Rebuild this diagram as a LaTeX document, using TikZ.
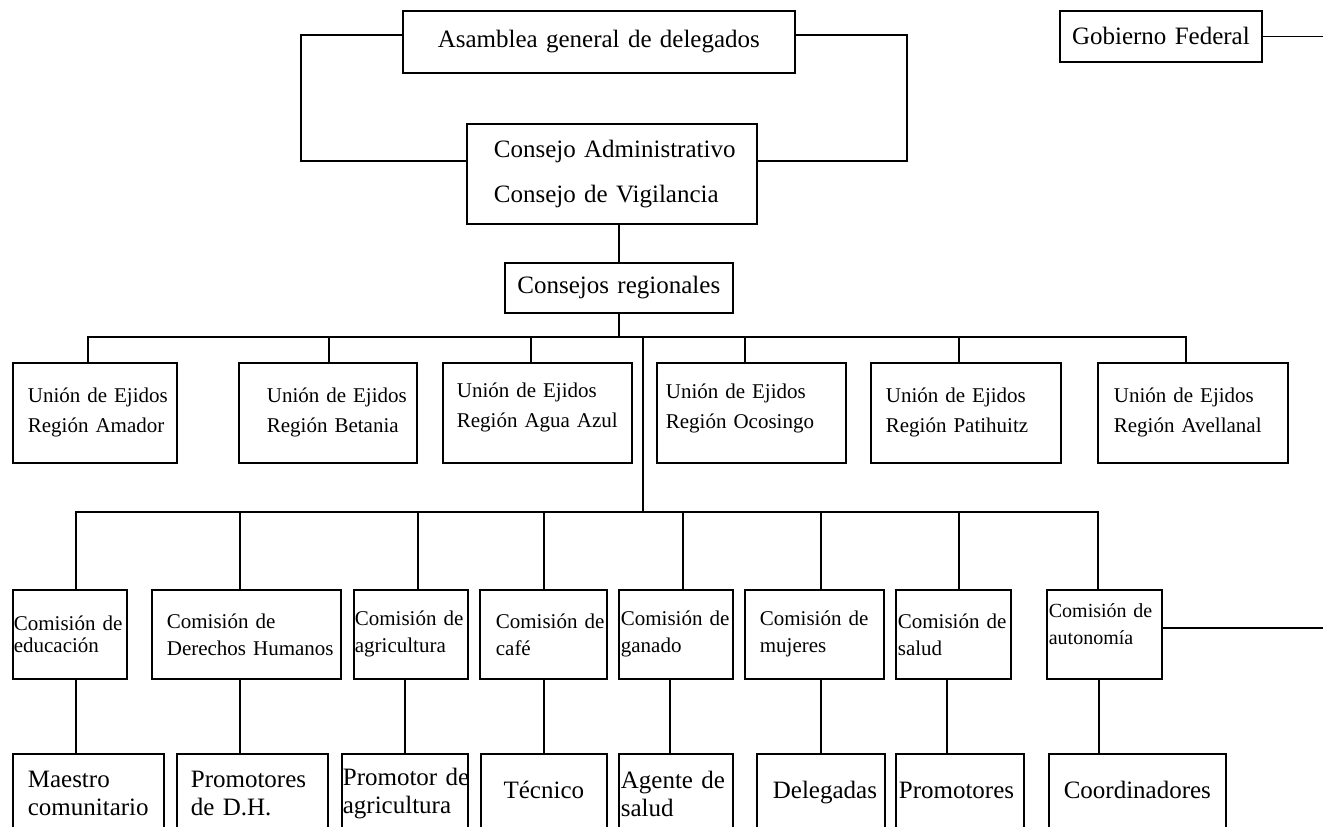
\documentclass[tikz,border=0pt]{standalone}
\usepackage{fontspec}
\setmainfont{Liberation Serif}
\newcommand{\myup}[1]{\rule[-#1]{0pt}{0pt}}
\newcommand{\ind}[1]{\hspace*{#1}}
\tikzset{
  box/.style={draw, line width=1.7pt, inner sep=0pt, anchor=north west, align=left},
  big/.style={font=\fontsize{25}{28}\selectfont},
  mid/.style={font=\fontsize{21}{30}\selectfont},
  com/.style={font=\fontsize{21}{27}\selectfont},
  conn/.style={line width=1.7pt},
}
\begin{document}
\begin{tikzpicture}[x=1pt, y=-1pt]
\useasboundingbox (0,0) rectangle (1323,827);
\clip (0,0) rectangle (1323,827);
\fill[white] (0,0) rectangle (1323,827);

% top
\node[box, big, align=center, text width=392pt, minimum height=62pt] (asam) at (402,10) {Asamblea general de delegados};
\node[box, font=\fontsize{25}{45}\selectfont, text width=290pt, minimum height=100pt] (cons) at (466,123) {\ind{27pt}Consejo Administrativo\\\ind{27pt}Consejo de Vigilancia};
\node[box, big, align=center, text width=228pt, minimum height=50pt] (cr) at (504,262) {Consejos regionales};
\node[box, big, align=center, text width=202pt, minimum height=51pt] (gob) at (1059,10) {Gobierno Federal};

% unions
\node[box, mid, text width=164pt, minimum height=100pt] (u1) at (12,362) {\ind{15pt}Unión de Ejidos\\\ind{15pt}Región Amador};
\node[box, mid, text width=178pt, minimum height=100pt] (u2) at (238,362) {\ind{28pt}Unión de Ejidos\\\ind{28pt}Región Betania};
\node[box, mid, text width=189pt, minimum height=100pt] (u3) at (442,362) {\ind{14pt}Unión de Ejidos\\\ind{14pt}Región Agua Azul\myup{16pt}};
\node[box, mid, text width=189pt, minimum height=100pt] (u4) at (656,362) {\ind{9pt}Unión de Ejidos\\\ind{9pt}Región Ocosingo\myup{14pt}};
\node[box, mid, text width=190pt, minimum height=100pt] (u5) at (870,362) {\ind{15pt}Unión de Ejidos\\\ind{15pt}Región Patihuitz};
\node[box, mid, text width=190pt, minimum height=100pt] (u6) at (1097,362) {\ind{16pt}Unión de Ejidos\\\ind{16pt}Región Avellanal};

% commissions
\node[box, com, text width=114pt, minimum height=89pt] (c1) at (12,589) {\ind{1pt}\makebox[112pt][s]{Comisión de}\\[-5pt]\ind{1pt}educación};
\node[box, com, text width=189pt, minimum height=89pt] (c2) at (151,589) {\ind{15pt}\makebox[124pt][s]{Comisión de}\\\ind{15pt}Derechos Humanos};
\node[box, com, text width=114pt, minimum height=89pt] (c3) at (353,589) {\ind{1pt}\makebox[112pt][s]{Comisión de}\\\ind{1pt}agricultura};
\node[box, com, text width=127pt, minimum height=89pt] (c4) at (479,589) {\ind{16pt}\makebox[110pt][s]{Comisión de}\\\ind{16pt}café};
\node[box, com, text width=114pt, minimum height=89pt] (c5) at (618,589) {\ind{2pt}\makebox[111pt][s]{Comisión de}\\\ind{2pt}ganado};
\node[box, com, text width=139pt, minimum height=89pt] (c6) at (744,589) {\ind{15pt}\makebox[110pt][s]{Comisión de}\\\ind{15pt}mujeres};
\node[box, com, text width=115pt, minimum height=89pt] (c7) at (895,589) {\ind{2pt}\makebox[111pt][s]{Comisión de}\\\ind{2pt}salud};
\node[box, font=\fontsize{20}{27}\selectfont, text width=115pt, minimum height=89pt] (c8) at (1046,589) {\ind{2pt}\makebox[111pt][s]{Comisión de}\\\ind{2pt}autonomía\myup{20pt}};

% bottom
\node[box, big, text width=151pt, minimum height=80pt] (b1) at (12,753) {\ind{15pt}Maestro\\\ind{15pt}comunitario};
\node[box, big, text width=151pt, minimum height=80pt] (b2) at (176,753) {\ind{14pt}Promotores\\\ind{14pt}de D.H.};
\node[box, big, text width=126pt, minimum height=80pt] (b3) at (341,753) {\ind{1pt}\mbox{Promotor de}\\\ind{1pt}agricultura};
\node[box, big, align=center, text width=126pt, minimum height=80pt] (b4) at (480,753) {Técnico\myup{8pt}};
\node[box, big, text width=114pt, minimum height=80pt] (b5) at (618,753) {\ind{2pt}\mbox{Agente de}\\\ind{2pt}salud};
\node[box, big, text width=128pt, minimum height=80pt] (b6) at (756,753) {\ind{16pt}Delegadas\myup{8pt}};
\node[box, big, text width=128pt, minimum height=80pt] (b7) at (895,753) {\ind{3pt}Promotores\myup{8pt}};
\node[box, big, align=center, text width=177pt, minimum height=80pt] (b8) at (1048,753) {Coordinadores\myup{8pt}};

% helper coordinates
\coordinate (lb) at (301,100);
\coordinate (rb) at (907,100);
\coordinate (ub) at (0,337);
\coordinate (t1) at (643,337);
\coordinate (cb) at (0,512);
\coordinate (edge) at (1323,0);

% top connectors
\draw[conn] ([yshift=7pt]asam.west) -| (lb) |- ([yshift=13pt]cons.west);
\draw[conn] ([yshift=7pt]asam.east) -| (rb) |- ([yshift=13pt]cons.east);
\draw[conn] (cons.south -| cr.north) -- (cr.north);
\draw[conn] (gob.east) -- (gob.east -| edge);

% union bus
\draw[conn] (cr.south) -- (cr.south |- ub);
\draw[conn] ([xshift=-7pt]u1.north) |- ([xshift=-7pt]u6.north |- ub) -- ([xshift=-7pt]u6.north);
\draw[conn] ([xshift=1pt]u2.north) -- ([xshift=1pt]u2.north |- ub);
\draw[conn] ([xshift=-6.5pt]u3.north) -- ([xshift=-6.5pt]u3.north |- ub);
\draw[conn] ([xshift=-6.5pt]u4.north) -- ([xshift=-6.5pt]u4.north |- ub);
\draw[conn] ([xshift=-7pt]u5.north) -- ([xshift=-7pt]u5.north |- ub);

% trunk and commission bus
\draw[conn] (t1) -- (t1 |- cb);
\draw[conn] ([xshift=6pt]c1.north) |- ([xshift=-6.5pt]c8.north |- cb) -- ([xshift=-6.5pt]c8.north);
\draw[conn] ([xshift=-6.5pt]c2.north) -- ([xshift=-6.5pt]c2.north |- cb);
\draw[conn] ([xshift=7pt]c3.north) -- ([xshift=7pt]c3.north |- cb);
\draw[conn] ([xshift=0.5pt]c4.north) -- ([xshift=0.5pt]c4.north |- cb);
\draw[conn] ([xshift=7pt]c5.north) -- ([xshift=7pt]c5.north |- cb);
\draw[conn] ([xshift=6.5pt]c6.north) -- ([xshift=6.5pt]c6.north |- cb);
\draw[conn] ([xshift=5.5pt]c7.north) -- ([xshift=5.5pt]c7.north |- cb);
\draw[conn] ([yshift=6.5pt]c8.east) -- ([yshift=6.5pt]c8.east -| edge);

% commission to bottom
\draw[conn] ([xshift=6pt]c1.south) -- ([xshift=6pt]c1.south |- b1.north);
\draw[conn] ([xshift=-6.5pt]c2.south) -- ([xshift=-6.5pt]c2.south |- b2.north);
\draw[conn] ([xshift=-6pt]c3.south) -- ([xshift=-6pt]c3.south |- b3.north);
\draw[conn] ([xshift=0.5pt]c4.south) -- ([xshift=0.5pt]c4.south |- b4.north);
\draw[conn] ([xshift=-6pt]c5.south) -- ([xshift=-6pt]c5.south |- b5.north);
\draw[conn] ([xshift=6.5pt]c6.south) -- ([xshift=6.5pt]c6.south |- b6.north);
\draw[conn] ([xshift=-6.5pt]c7.south) -- ([xshift=-6.5pt]c7.south |- b7.north);
\draw[conn] ([xshift=-5.5pt]c8.south) -- ([xshift=-5.5pt]c8.south |- b8.north);
\end{tikzpicture}
\end{document}
